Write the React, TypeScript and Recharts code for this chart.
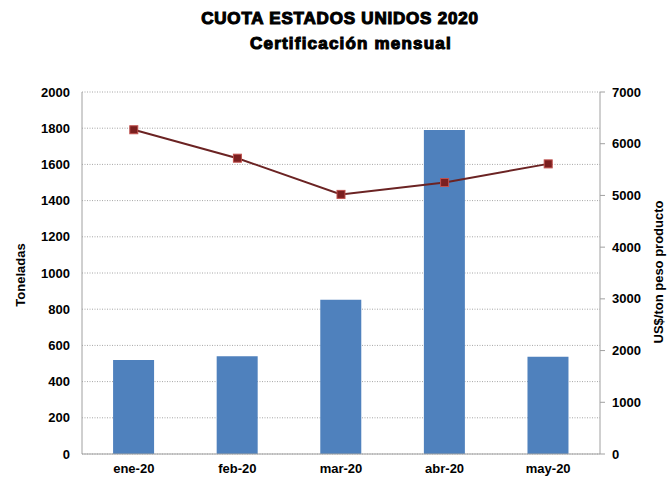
import React from 'react';
import { ComposedChart, Bar, Line, XAxis, YAxis, CartesianGrid } from 'recharts';

const months = ['ene-20', 'feb-20', 'mar-20', 'abr-20', 'may-20'];
const toneladas = [520, 540, 852, 1790, 537];
const precio = [6270, 5720, 5020, 5250, 5610];
const leftTicks = [0, 200, 400, 600, 800, 1000, 1200, 1400, 1600, 1800, 2000];
const rightTicks = [0, 1000, 2000, 3000, 4000, 5000, 6000, 7000];

const data = months.map((m, i) => ({ month: m, ton: toneladas[i], usd: precio[i] }));

const tickStyle = { fontFamily: 'Liberation Sans, Arial, sans-serif', fontWeight: 'bold', fontSize: 13, fill: '#000' };

const SquareDot = (props: any) => {
  const { cx, cy } = props;
  if (cx == null || cy == null) return null;
  return <rect x={cx - 4} y={cy - 4} width={8} height={8} fill="#7B1F1F" stroke="#C0504D" strokeWidth={1} />;
};

export default function App() {
  return (
    <div style={{ position: 'absolute', left: 0, top: 0, width: 667, height: 477, background: '#fff' }}>
      <ComposedChart width={667} height={477} data={data} margin={{ top: 92, right: 0, bottom: 0, left: 0 }} barCategoryGap="30%">
        <CartesianGrid yAxisId="left" vertical={false} stroke="#A6A6A6" strokeDasharray="1 1.5" />
        <XAxis dataKey="month" height={23} tick={tickStyle} tickLine={false} tickSize={0} tickMargin={10} axisLine={{ stroke: '#A0A0A0' }} />
        <YAxis yAxisId="left" width={82} domain={[0, 2000]} ticks={leftTicks} interval={0} tick={tickStyle} tickLine={false} tickSize={0} tickMargin={12} axisLine={{ stroke: '#A0A0A0' }} />
        <YAxis yAxisId="right" orientation="right" width={67} domain={[0, 7000]} ticks={rightTicks} interval={0} tick={{ ...tickStyle, textAnchor: 'start' }} tickLine={{ stroke: '#A0A0A0' }} tickSize={5} tickMargin={7} axisLine={{ stroke: '#A0A0A0' }} />
        <Bar yAxisId="left" dataKey="ton" fill="#4F81BD" isAnimationActive={false} />
        <Line yAxisId="right" dataKey="usd" stroke="#6B2323" strokeWidth={2} dot={<SquareDot />} activeDot={false} isAnimationActive={false} />
      </ComposedChart>
      <svg width={667} height={477} style={{ position: 'absolute', left: 0, top: 0, pointerEvents: 'none' }}>
        <g fontFamily="Liberation Sans, Arial, sans-serif" fontWeight="bold" fill="#000" stroke="#000" strokeWidth={1.1} fontSize={17}>
          <text x={340} y={24} textAnchor="middle" letterSpacing={0.8}>CUOTA ESTADOS UNIDOS 2020</text>
          <text x={351} y={49} textAnchor="middle" letterSpacing={1.2}>Certificación mensual</text>
        </g>
        <g fontFamily="Liberation Sans, Arial, sans-serif" fontWeight="bold" fill="#000" fontSize={13}>
          <text transform="translate(25,275) rotate(-90)" textAnchor="middle">Toneladas</text>
          <text transform="translate(663,272) rotate(-90)" textAnchor="middle">US$/ton peso producto</text>
        </g>
      </svg>
    </div>
  );
}
